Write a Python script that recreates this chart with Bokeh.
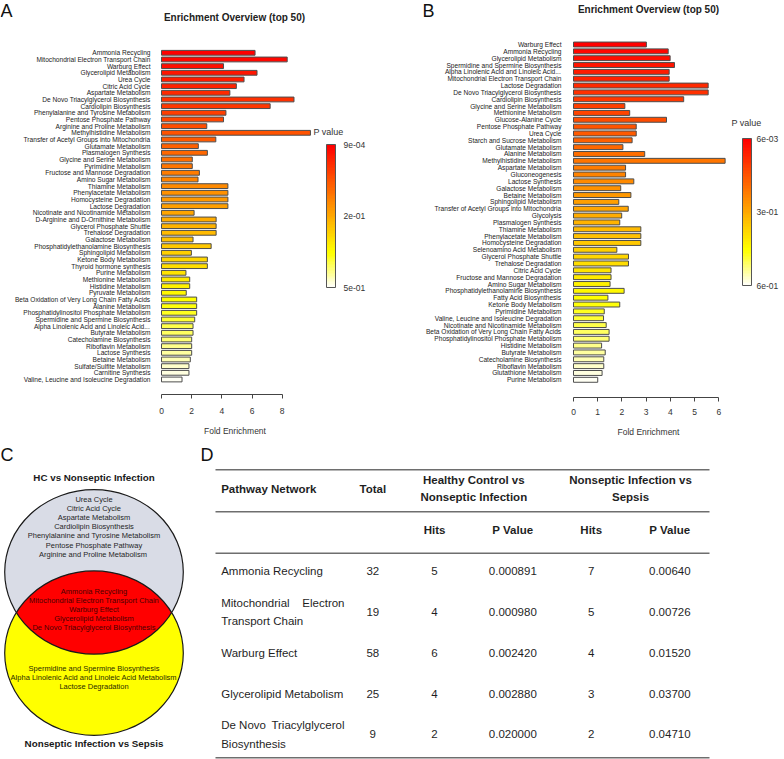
import colorsys
import textwrap
import numpy as np
from bokeh.plotting import figure
from bokeh.models import (ColumnDataSource, Range1d, FixedTicker, LinearColorMapper,
                          ColorBar, Label, AllLabels)
from bokeh.layouts import row, column
from bokeh.core.properties import value
from bokeh.embed import file_html
from bokeh.resources import INLINE

FONT = "Liberation Sans"

# ---------------- data: panel A (HC vs nonseptic infection) ----------------
a_pathways = [
    "Ammonia Recycling", "Mitochondrial Electron Transport Chain", "Warburg Effect",
    "Glycerolipid Metabolism", "Urea Cycle", "Citric Acid Cycle", "Aspartate Metabolism",
    "De Novo Triacylglycerol Biosynthesis", "Cardiolipin Biosynthesis",
    "Phenylalanine and Tyrosine Metabolism", "Pentose Phosphate Pathway",
    "Arginine and Proline Metabolism", "Methylhistidine Metabolism",
    "Transfer of Acetyl Groups into Mitochondria", "Glutamate Metabolism",
    "Plasmalogen Synthesis", "Glycine and Serine Metabolism", "Pyrimidine Metabolism",
    "Fructose and Mannose Degradation", "Amino Sugar Metabolism", "Thiamine Metabolism",
    "Phenylacetate Metabolism", "Homocysteine Degradation", "Lactose Degradation",
    "Nicotinate and Nicotinamide Metabolism", "D-Arginine and D-Ornithine Metabolism",
    "Glycerol Phosphate Shuttle", "Trehalose Degradation", "Galactose Metabolism",
    "Phosphatidylethanolamine Biosynthesis", "Sphingolipid Metabolism",
    "Ketone Body Metabolism", "Thyroid hormone synthesis", "Purine Metabolism",
    "Methionine Metabolism", "Histidine Metabolism", "Pyruvate Metabolism",
    "Beta Oxidation of Very Long Chain Fatty Acids", "Alanine Metabolism",
    "Phosphatidylinositol Phosphate Metabolism", "Spermidine and Spermine Biosynthesis",
    "Alpha Linolenic Acid and Linoleic Acid...", "Butyrate Metabolism",
    "Catecholamine Biosynthesis", "Riboflavin Metabolism", "Lactose Synthesis",
    "Betaine Metabolism", "Sulfate/Sulfite Metabolism", "Carnitine Synthesis",
    "Valine, Leucine and Isoleucine Degradation",
]
a_fold = [
    6.20, 8.33, 4.11, 6.33, 5.47, 4.96, 4.53, 8.78, 7.20, 4.27,
    4.11, 3.00, 9.87, 3.60, 2.44, 3.04, 2.04, 2.04, 2.51, 2.42,
    4.40, 4.40, 4.40, 4.40, 2.16, 3.62, 3.62, 3.62, 2.09, 3.29,
    1.98, 3.04, 3.04, 1.62, 1.87, 1.87, 1.64, 2.33, 2.33, 2.33,
    2.20, 2.09, 2.09, 2.00, 2.00, 2.00, 1.91, 1.82, 1.82, 1.36,
]
a_xticks = [0, 2, 4, 6, 8]
a_p_labels = ["9e-04", "2e-01", "5e-01"]

# ---------------- data: panel B (nonseptic infection vs sepsis) ----------------
b_pathways = [
    "Warburg Effect", "Ammonia Recycling", "Glycerolipid Metabolism",
    "Spermidine and Spermine Biosynthesis", "Alpha Linolenic Acid and Linoleic Acid...",
    "Mitochondrial Electron Transport Chain", "Lactose Degradation",
    "De Novo Triacylglycerol Biosynthesis", "Cardiolipin Biosynthesis",
    "Glycine and Serine Metabolism", "Methionine Metabolism", "Glucose-Alanine Cycle",
    "Pentose Phosphate Pathway", "Urea Cycle", "Starch and Sucrose Metabolism",
    "Glutamate Metabolism", "Alanine Metabolism", "Methylhistidine Metabolism",
    "Aspartate Metabolism", "Gluconeogenesis", "Lactose Synthesis",
    "Galactose Metabolism", "Betaine Metabolism", "Sphingolipid Metabolism",
    "Transfer of Acetyl Groups into Mitochondria", "Glycolysis", "Plasmalogen Synthesis",
    "Thiamine Metabolism", "Phenylacetate Metabolism", "Homocysteine Degradation",
    "Selenoamino Acid Metabolism", "Glycerol Phosphate Shuttle", "Trehalose Degradation",
    "Citric Acid Cycle", "Fructose and Mannose Degradation", "Amino Sugar Metabolism",
    "Phosphatidylethanolamine Biosynthesis", "Fatty Acid Biosynthesis",
    "Ketone Body Metabolism", "Pyrimidine Metabolism",
    "Valine, Leucine and Isoleucine Degradation", "Nicotinate and Nicotinamide Metabolism",
    "Beta Oxidation of Very Long Chain Fatty Acids",
    "Phosphatidylinositol Phosphate Metabolism", "Histidine Metabolism",
    "Butyrate Metabolism", "Catecholamine Biosynthesis", "Riboflavin Metabolism",
    "Glutathione Metabolism", "Purine Metabolism",
]
b_fold = [
    3.01, 3.91, 3.99, 4.17, 3.95, 3.95, 5.56, 5.56, 4.55, 2.12,
    2.32, 3.84, 2.59, 2.59, 2.42, 2.04, 2.94, 6.26, 2.15, 2.15,
    2.49, 1.95, 2.37, 1.87, 2.26, 1.99, 1.91, 2.78, 2.78, 2.78,
    1.79, 2.27, 2.27, 1.55, 1.55, 1.51, 2.09, 1.42, 1.91, 1.27,
    1.24, 1.35, 1.47, 1.47, 1.16, 1.31, 1.25, 1.25, 1.18, 1.00,
]
b_xticks = [0, 1, 2, 3, 4, 5, 6]
b_p_labels = ["6e-03", "3e-01", "6e-01"]

# ---------------- data: panel C (Venn) ----------------
venn_title_top = "HC vs Nonseptic Infection"
venn_title_bottom = "Nonseptic Infection vs Sepsis"
venn_hc_only = ["Urea Cycle", "Citric Acid Cycle", "Aspartate Metabolism",
                "Cardiolipin Biosynthesis", "Phenylalanine and Tyrosine Metabolism",
                "Pentose Phosphate Pathway", "Arginine and  Proline Metabolism"]
venn_shared = ["Ammonia Recycling", "Mitochondrial Electron Transport Chain",
               "Warburg Effect", "Glycerolipid Metabolism",
               "De Novo Triacylglycerol Biosynthesis"]
venn_sepsis_only = ["Spermidine and Spermine Biosynthesis",
                    "Alpha Linolenic Acid and Linoleic Acid Metabolism",
                    "Lactose Degradation"]

# ---------------- data: panel D (table) ----------------
tbl_header = ["Pathway Network", "Total", "Healthy Control vs\nNonseptic Infection",
              "Nonseptic Infection vs\nSepsis"]
tbl_subheader = ["Hits", "P Value", "Hits", "P Value"]
tbl_pathways = ["Ammonia Recycling", "Mitochondrial Electron Transport Chain",
                "Warburg Effect", "Glycerolipid Metabolism",
                "De Novo Triacylglycerol Biosynthesis"]
tbl_total = [32, 19, 58, 25, 9]
tbl_hits_hc = [5, 4, 6, 4, 2]
tbl_p_hc = [0.000891, 0.000980, 0.002420, 0.002880, 0.020000]
tbl_hits_sep = [7, 5, 4, 3, 2]
tbl_p_sep = [0.00640, 0.00726, 0.01520, 0.03700, 0.04710]


# ---------------- helpers ----------------
def heat_colors(n):
    j = n // 4
    i = n - j
    cols = []
    for k in range(i):
        cols.append(colorsys.hsv_to_rgb((1 / 6) * k / (i - 1), 1, 1))
    s_hi, s_lo = 1 - 1 / (2 * j), 1 / (2 * j)
    for k in range(j):
        cols.append(colorsys.hsv_to_rgb(1 / 6, s_hi + (s_lo - s_hi) * k / (j - 1), 1))
    return ["#%02x%02x%02x" % tuple(int(round(c * 255)) for c in rgb) for rgb in cols]


def screen_label(p, text, lx, ly, H, size, bold=False, align="center",
                 baseline="middle", color="#222222"):
    p.add_layout(Label(x=lx, y=H - ly, x_units="screen", y_units="screen",
                       text=text, text_align=align, text_baseline=baseline,
                       text_font=FONT, text_font_size=size,
                       text_font_style="bold" if bold else "normal", text_color=color))


def enrichment_panel(letter, letter_x, names, fold, xticks, p_labels, W, H, label_right,
                     zero_x, unit_px, row0, step, axis_y, tick_standoff, title_xy, pv_xy,
                     fold_xy, cb_left, cb_bottom, cb_w, cb_h, cb_standoff):
    n = len(names)
    idx = list(range(n))
    score = [n - i for i in idx]
    mapper = LinearColorMapper(palette=heat_colors(n)[::-1], low=0.5, high=n + 0.5)
    src = ColumnDataSource(dict(idx=idx, fold=fold, score=score, name=names))
    p = figure(width=W, height=H, output_backend="svg", toolbar_location=None,
               x_range=Range1d(-zero_x / unit_px, (W - zero_x) / unit_px),
               y_range=Range1d((H - row0) / step, -row0 / step), min_border=0)
    p.outline_line_color = None
    p.xgrid.grid_line_color = None
    p.ygrid.grid_line_color = None
    p.hbar(y="idx", left=0, right="fold", height=0.72, source=src,
           fill_color={"field": "score", "transform": mapper},
           line_color="#4d4d4d", line_width=1)

    xa = p.xaxis[0]
    xa.fixed_location = (axis_y - row0) / step
    xa.ticker = FixedTicker(ticks=xticks)
    xa.bounds = (xticks[0], xticks[-1])
    xa.major_tick_out = 4
    xa.major_tick_in = 0
    xa.minor_tick_line_color = None
    xa.axis_line_color = "#444444"
    xa.major_tick_line_color = "#444444"
    xa.major_label_text_font = FONT
    xa.major_label_text_font_size = "8.5px"
    xa.major_label_text_color = "#333333"
    xa.major_label_standoff = tick_standoff

    ya = p.yaxis[0]
    ya.fixed_location = (label_right + 5 - zero_x) / unit_px
    ya.ticker = FixedTicker(ticks=idx)
    ya.major_label_overrides = {i: nm for i, nm in enumerate(names)}
    ya.major_label_policy = AllLabels()
    ya.axis_line_color = None
    ya.major_tick_line_color = None
    ya.minor_tick_line_color = None
    ya.major_tick_out = 0
    ya.major_tick_in = 0
    ya.major_label_standoff = 5
    ya.major_label_text_font = FONT
    ya.major_label_text_font_size = "6.6px"
    ya.major_label_text_color = "#222222"

    mid = (n + 1) / 2
    cb = ColorBar(color_mapper=mapper, orientation="vertical", width=cb_w, height=cb_h,
                  padding=0, margin=0, location=(cb_left, H - cb_bottom),
                  ticker=FixedTicker(ticks=[0.5, mid, n + 0.5]),
                  major_label_overrides={n + 0.5: p_labels[0], mid: p_labels[1],
                                         0.5: p_labels[2]},
                  major_tick_line_color=None, minor_tick_line_color=None,
                  label_standoff=cb_standoff, major_label_text_font=FONT,
                  major_label_text_font_size="8.5px", major_label_text_color="#333333",
                  bar_line_color="#555555", bar_line_width=1, border_line_color=None,
                  background_fill_alpha=0)
    p.add_layout(cb)

    screen_label(p, letter, letter_x, 0, H, "18px", align="left", baseline="top",
                 color="#111111")
    screen_label(p, "Enrichment Overview (top 50)", title_xy[0], title_xy[1], H, "10px",
                 bold=True)
    screen_label(p, "P value", pv_xy[0], pv_xy[1], H, "9px", color="#333333")
    screen_label(p, "Fold Enrichment", fold_xy[0], fold_xy[1], H, "8.5px",
                 color="#333333")
    return p


# ---------------- panels A and B ----------------
pA = enrichment_panel("A", 0, a_pathways, a_fold, a_xticks, a_p_labels,
                      W=390, H=440, label_right=150, zero_x=161, unit_px=15.09,
                      row0=52.3, step=6.667, axis_y=394, tick_standoff=9,
                      title_xy=(234, 17.3), pv_xy=(328, 131), fold_xy=(234.5, 430),
                      cb_left=326, cb_bottom=287, cb_w=9, cb_h=143, cb_standoff=8)
pB = enrichment_panel("B", 32, b_pathways, b_fold, b_xticks, b_p_labels,
                      W=394, H=440, label_right=171, zero_x=183, unit_px=24.22,
                      row0=44, step=6.843, axis_y=396.7, tick_standoff=8,
                      title_xy=(258, 9), pv_xy=(356, 122), fold_xy=(258, 431.7),
                      cb_left=352, cb_bottom=285, cb_w=9, cb_h=147, cb_standoff=5)

# ---------------- panel C: Venn ----------------
WC, HC = 200, 319
pC = figure(width=WC, height=HC, output_backend="svg", toolbar_location=None,
            x_range=Range1d(0, WC), y_range=Range1d(HC, 0), min_border=0,
            x_axis_type=None, y_axis_type=None)
pC.outline_line_color = None
cx, rx, ry = 93.5, 89.3, 82.2
cy_top, cy_bot = 131.4, 212.6
pC.ellipse(x=[cx], y=[cy_top], width=2 * rx, height=2 * ry, fill_color="#d9dce6",
           line_color=None)
pC.ellipse(x=[cx], y=[cy_bot], width=2 * rx, height=2 * ry, fill_color="#ffff00",
           line_color=None)
t = np.linspace(0, 2 * np.pi, 2881)
xt, yt = cx + rx * np.cos(t), cy_top + ry * np.sin(t)
in_b = ((xt - cx) / rx) ** 2 + ((yt - cy_bot) / ry) ** 2 <= 1
xb, yb = cx + rx * np.cos(t), cy_bot + ry * np.sin(t)
in_t = ((xb - cx) / rx) ** 2 + ((yb - cy_top) / ry) ** 2 <= 1
lens_x = np.concatenate([xt[in_b], xb[in_t]])
lens_y = np.concatenate([yt[in_b], yb[in_t]])
pC.patch(lens_x, lens_y, fill_color="#ff0000", line_color=None)
pC.ellipse(x=[cx, cx], y=[cy_top, cy_bot], width=2 * rx, height=2 * ry,
           fill_color=None, line_color="#1a1a1a", line_width=1.2)


def venn_text(items, y0, dy, color):
    pC.text(x=[cx] * len(items), y=[y0 + dy * k for k in range(len(items))], text=items,
            text_align="center", text_baseline="middle", text_font=value(FONT),
            text_font_size="7.5px", text_color=color)


venn_text(venn_hc_only, 59, 9.1, "#262626")
venn_text(venn_shared, 151, 9.0, "#4a0000")
venn_text(venn_sepsis_only, 227.7, 9.0, "#2b2b00")
pC.text(x=[cx, cx], y=[37, 302.7], text=[venn_title_top, venn_title_bottom],
        text_align="center", text_baseline="middle", text_font=value(FONT),
        text_font_size="9.8px", text_font_style="bold", text_color="#1a1a1a")
pC.text(x=[0], y=[4], text=["C"], text_align="left", text_baseline="top",
        text_font=value(FONT), text_font_size="18px", text_color="#111111")

# ---------------- panel D: table ----------------
WD, HD = 584, 319
pD = figure(width=WD, height=HD, output_backend="svg", toolbar_location=None,
            x_range=Range1d(0, WD), y_range=Range1d(HD, 0), min_border=0,
            x_axis_type=None, y_axis_type=None)
pD.outline_line_color = None
pD.text(x=[0], y=[4], text=["D"], text_align="left", text_baseline="top",
        text_font=value(FONT), text_font_size="18px", text_color="#111111")
x_left, x_right = 15, 509
rule_y = [29.3, 71.3, 112.7, 317.3]
pD.segment(x0=[x_left] * 4, x1=[x_right] * 4, y0=rule_y, y1=rule_y,
           line_color="#6e6e6e", line_width=1.5)

name_x, name_right = 20.7, 144
col_x = [172.3, 234, 312.3, 390.7, 469.3]
line_gap = 18.6
hdr_y, sub_y = 48, 89.3
row_y0, row_dy = 130.7, 40.8
TXT = "#1f1f1f"


def dtext(xs, ys, texts, align="center", bold=False):
    pD.text(x=xs, y=ys, text=texts, text_align=align, text_baseline="middle",
            text_font=value(FONT), text_font_size="11.5px",
            text_font_style="bold" if bold else "normal", text_color=TXT)


# header
dtext([name_x], [hdr_y], [tbl_header[0]], align="left", bold=True)
dtext([col_x[0]], [hdr_y], [tbl_header[1]], bold=True)
for hx, htxt in zip([273.3, 430], tbl_header[2:]):
    lines = htxt.split("\n")
    dtext([hx] * len(lines),
          [hdr_y + 17.7 * (k - (len(lines) - 1) / 2) for k in range(len(lines))],
          lines, bold=True)
dtext(col_x[1:], [sub_y] * 4, tbl_subheader, bold=True)

# body
for r, name in enumerate(tbl_pathways):
    yc = row_y0 + row_dy * r
    lines = textwrap.wrap(name, width=23)
    for k, ln in enumerate(lines):
        yl = yc + line_gap * (k - (len(lines) - 1) / 2)
        words = ln.split(" ")
        if k < len(lines) - 1 and len(words) > 1:
            dtext([name_x], [yl], [" ".join(words[:-1])], align="left")
            dtext([name_right], [yl], [words[-1]], align="right")
        else:
            dtext([name_x], [yl], [ln], align="left")
    vals = [str(tbl_total[r]), str(tbl_hits_hc[r]), "%.6f" % tbl_p_hc[r],
            str(tbl_hits_sep[r]), "%.5f" % tbl_p_sep[r]]
    dtext(col_x, [yc] * 5, vals)

layout = column(row(pA, pB, spacing=0), row(pC, pD, spacing=0), spacing=0)
open("out.html", "w").write(file_html(layout, INLINE))
